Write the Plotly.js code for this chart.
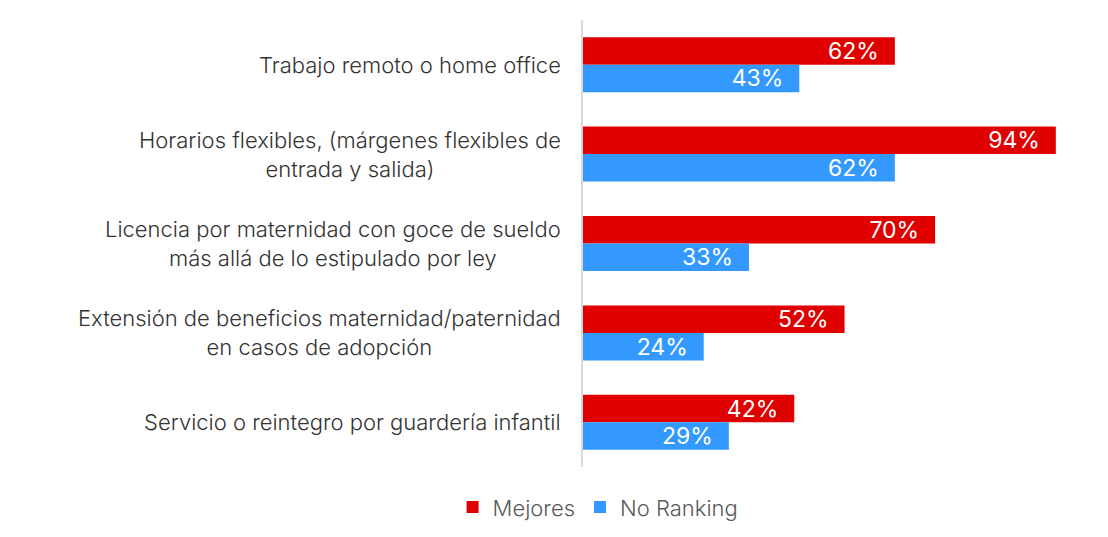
<!DOCTYPE html>
<html><head><meta charset="utf-8">
<script src="https://cdn.plot.ly/plotly-3.0.1.min.js"></script>
<style>html,body{margin:0;padding:0;background:#fff}#chart{width:1108px;height:537px}</style>
</head><body><div id="chart"></div>
<script>
const categories = [
  "Trabajo remoto o home office",
  "Horarios flexibles, (márgenes flexibles de<br>entrada y salida)",
  "Licencia por maternidad con goce de sueldo<br>más allá de lo estipulado por ley",
  "Extensión de beneficios maternidad/paternidad<br>en casos de adopción",
  "Servicio o reintegro por guardería infantil"
];
const seriesNames = ["Mejores", "No Ranking"];
const mejores = [62, 94, 70, 52, 42];
const noRanking = [43, 62, 33, 24, 29];
const colors = ["#e00000", "#3399ff"];

const FONT = "Inter, 'Noto Sans', sans-serif";
function mk(name, vals, color) {
  return {
    type: "bar", orientation: "h", name: name,
    y: categories, x: vals,
    marker: {color: color},
    text: vals.map(v => v + "%\u00a0\u00a0"),
    textposition: "inside", insidetextanchor: "end", constraintext: "none",
    textfont: {color: "#ffffff", size: 23, family: FONT, weight: 400},
    hoverinfo: "skip"
  };
}
const data = [mk(seriesNames[0], mejores, colors[0]), mk(seriesNames[1], noRanking, colors[1])];
const annotations = categories.map(c => ({
  xref: "paper", yref: "y", x: 0, y: c, xanchor: "right", yanchor: "middle",
  xshift: -20, align: "center", showarrow: false, text: c,
  font: {size: 22, color: "#333333", family: FONT, weight: 300}
}));
const layout = {
  width: 1108, height: 537,
  margin: {l: 583, r: 22, t: 20, b: 70, autoexpand: false},
  barmode: "group", bargap: 0.385, bargroupgap: 0,
  paper_bgcolor: "#fff", plot_bgcolor: "#fff",
  font: {family: FONT, color: "#333333"},
  xaxis: {range: [0, 100], visible: false, fixedrange: true},
  yaxis: {autorange: "reversed", showline: true, linecolor: "#d9d9d9", linewidth: 2,
          showticklabels: false, ticks: "", showgrid: false, zeroline: false},
  annotations: annotations,
  showlegend: true,
  legend: {orientation: "h", x: 0.03, xanchor: "center", y: -0.09, yanchor: "middle",
           font: {size: 22, color: "#595959", family: FONT, weight: 300}, traceorder: "normal"}
};
Plotly.newPlot("chart", data, layout, {displayModeBar: false, staticPlot: true});
</script></body></html>
